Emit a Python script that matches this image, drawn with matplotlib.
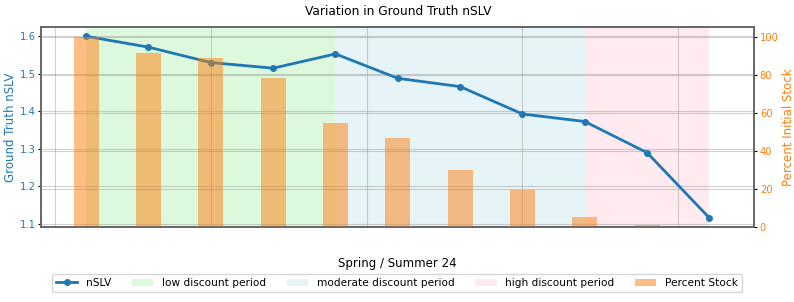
import numpy as np
import matplotlib.pyplot as plt

# Data
nslv = [1.600, 1.571, 1.530, 1.515, 1.553, 1.488, 1.466, 1.393, 1.373, 1.290, 1.116]
stock = [100, 91.5, 89, 78.5, 54.5, 47, 30.2, 19.7, 5.5, 1.0]
periods = [(0, 4, 'lightgreen', 'low discount period'),
           (4, 8, 'lightblue', 'moderate discount period'),
           (8, 10, 'pink', 'high discount period')]

x = np.arange(len(nslv))
xb = np.arange(len(stock))

fig, ax1 = plt.subplots(figsize=(7.94, 3.02), dpi=100)
fig.subplots_adjust(left=0.052, right=0.95, bottom=0.248, top=0.91)

line, = ax1.plot(x, nslv, '-o', color='tab:blue', linewidth=2,
                 markersize=4, label='nSLV', zorder=3)
spans = []
for a, b, c, lab in periods:
    spans.append(ax1.axvspan(a, b, color=c, alpha=0.3, label=lab, lw=0))

ax1.set_ylabel('Ground Truth nSLV', color='tab:blue', fontsize=8.5, labelpad=2)
ax1.tick_params(axis='y', labelcolor='tab:blue', labelsize=7.2,
                length=2.5, pad=1.5)
ax1.set_xlabel('Spring / Summer 24', labelpad=18, fontsize=8.5)
ax1.set_xticks([-0.5, 2, 4.5, 7, 9.5])
ax1.set_xticklabels([])
ax1.tick_params(axis='x', length=0)
ax1.grid(True, color='grey', alpha=0.35)
ax1.set_xlim(-0.72, 10.72)

ax2 = ax1.twinx()
bars = ax2.bar(xb, stock, width=0.4, color='tab:orange', alpha=0.5,
               label='Percent Stock')
ax2.set_ylabel('Percent Initial Stock', color='tab:orange', fontsize=8.5,
               labelpad=2)
ax2.tick_params(axis='y', labelcolor='tab:orange', labelsize=7.2,
                length=2.5, pad=1.5)
ax2.set_ylim(0, 105)
ax2.set_yticks([0, 20, 40, 60, 80, 100])
ax2.grid(True, axis='y', color='grey', alpha=0.35)

for ax in (ax1, ax2):
    for s in ax.spines.values():
        s.set_color('#666666')
        s.set_linewidth(1.2)

ax1.set_title('Variation in Ground Truth nSLV', fontsize=8.8, pad=9)

handles = [line] + spans + [bars]
labels = [h.get_label() for h in handles]
fig.legend(handles, labels, loc='lower center', ncol=5, fontsize=7.6,
           bbox_to_anchor=(0.5, 0.015), frameon=True, columnspacing=2.0)

plt.savefig('out.png')
